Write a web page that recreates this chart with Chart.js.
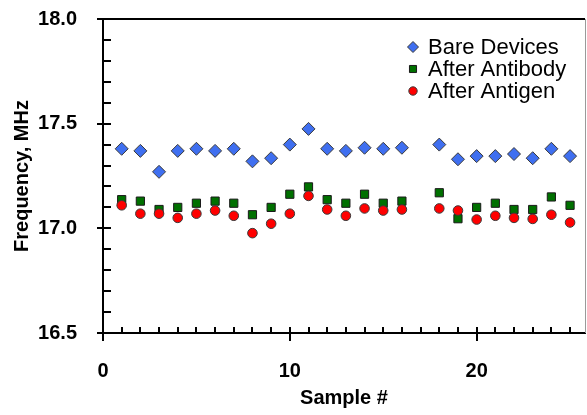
<!DOCTYPE html>
<html>
<head>
<meta charset="utf-8">
<script src="https://cdn.jsdelivr.net/npm/chart.js@4"></script>
<style>
  html, body { margin: 0; padding: 0; background: #fff; }
  #wrap { width: 587px; height: 415px; position: relative; }
</style>
</head>
<body>
<div id="wrap"><canvas id="freqChart"></canvas></div>
<script>
// Sample numbers (17 is missing in the original)
const samples = [1, 2, 3, 4, 5, 6, 7, 8, 9, 10, 11, 12, 13, 14, 15, 16, 18, 19, 20, 21, 22, 23, 24, 25];

// Frequency, MHz
const bareDevices = [17.38, 17.37, 17.27, 17.37, 17.38, 17.37, 17.38, 17.32, 17.335, 17.40, 17.475, 17.38,
                     17.37, 17.385, 17.38, 17.385, 17.40, 17.33, 17.345, 17.345, 17.355, 17.335, 17.38, 17.345];
const afterAntibody = [17.137, 17.13, 17.09, 17.10, 17.12, 17.13, 17.12, 17.065, 17.10, 17.163, 17.198, 17.137,
                       17.12, 17.163, 17.12, 17.13, 17.17, 17.046, 17.10, 17.12, 17.09, 17.09, 17.15, 17.11];
const afterAntigen = [17.11, 17.07, 17.07, 17.05, 17.07, 17.085, 17.06, 16.977, 17.022, 17.07, 17.155, 17.09,
                      17.06, 17.095, 17.085, 17.09, 17.095, 17.085, 17.042, 17.06, 17.05, 17.045, 17.065, 17.028];

const xTicks = [0, 10, 20];
const yTicks = [16.5, 17.0, 17.5, 18.0];

const toPoints = vals => vals.map((v, i) => ({ x: samples[i], y: v }));

const FONT = 'Liberation Sans, Arial, sans-serif';

// Minor / major tick marks and the plot frame (top black, right grey)
const axisMarks = {
    id: 'axisMarks',
    afterDraw(chart) {
        const { ctx, chartArea: a, scales: { x, y } } = chart;
        ctx.save();
        ctx.strokeStyle = '#000';
        ctx.lineWidth = 2;
        ctx.beginPath();
        for (let v = 0; v <= 25; v++) {
            const px = Math.round(x.getPixelForValue(v));
            const major = xTicks.includes(v);
            ctx.moveTo(px, a.bottom + (major ? 8 : 0));
            ctx.lineTo(px, a.bottom - 6);
        }
        for (let i = 0; i <= 15; i++) {
            const v = 16.5 + i * 0.1;
            const py = Math.round(y.getPixelForValue(v));
            const major = i % 5 === 0;
            ctx.moveTo(a.left - (major ? 6 : 0), py);
            ctx.lineTo(a.left + 8, py);
        }
        ctx.stroke();

        ctx.beginPath();
        ctx.moveTo(a.left, a.top);
        ctx.lineTo(a.right, a.top);
        ctx.stroke();

        ctx.strokeStyle = '#9a9a9a';
        ctx.lineWidth = 1;
        ctx.beginPath();
        ctx.moveTo(a.right + 0.5, a.top);
        ctx.lineTo(a.right + 0.5, a.bottom);
        ctx.stroke();
        ctx.restore();
    }
};

// Legend drawn inside the plot area, top right
const insideLegend = {
    id: 'insideLegend',
    afterDraw(chart) {
        const { ctx } = chart;
        const left = 413, top = 47, step = 22;
        ctx.save();
        ctx.font = '22px ' + FONT;
        ctx.textBaseline = 'middle';
        chart.data.datasets.forEach((ds, i) => {
            const cy = top + i * step;
            ctx.fillStyle = ds.backgroundColor;
            ctx.strokeStyle = ds.borderColor;
            ctx.lineWidth = 1;
            Chart.helpers.drawPoint(ctx, {
                pointStyle: ds.pointStyle,
                radius: ds.legendRadius,
                rotation: 0,
                borderWidth: 1
            }, left, cy);
            ctx.fillStyle = '#000';
            ctx.fillText(ds.label, left + 15, cy + 1);
        });
        ctx.restore();
    }
};

const ctx = document.getElementById('freqChart');
new Chart(ctx, {
    type: 'scatter',
    data: {
        datasets: [
            {
                label: 'Bare Devices',
                data: toPoints(bareDevices),
                pointStyle: 'rectRot',
                pointRadius: 6.5,
                legendRadius: 5.5,
                backgroundColor: '#3f6ff0',
                borderColor: '#3a3a3a',
                borderWidth: 1,
                order: 2
            },
            {
                label: 'After Antibody',
                data: toPoints(afterAntibody),
                pointStyle: 'rect',
                pointRadius: 5.8,
                legendRadius: 5,
                backgroundColor: '#007000',
                borderColor: '#1a1a1a',
                borderWidth: 1,
                order: 1
            },
            {
                label: 'After Antigen',
                data: toPoints(afterAntigen),
                pointStyle: 'circle',
                pointRadius: 4.8,
                legendRadius: 4.2,
                backgroundColor: '#ff0000',
                borderColor: '#3a3a3a',
                borderWidth: 1,
                order: 0
            }
        ]
    },
    options: {
        responsive: true,
        maintainAspectRatio: false,
        animation: false,
        layout: { autoPadding: false, padding: { top: 19, right: 2, left: 0, bottom: 0 } },
        plugins: {
            legend: { display: false },
            tooltip: { enabled: false }
        },
        scales: {
            x: {
                type: 'linear',
                min: 0,
                max: 25.8,
                afterFit: s => {
                    s.height = 82;
                    s.paddingLeft = 0;
                    s.paddingRight = 0;
                },
                afterBuildTicks: s => { s.ticks = xTicks.map(v => ({ value: v })); },
                grid: { display: false },
                border: { display: true, color: '#000', width: 2 },
                ticks: {
                    color: '#000',
                    padding: 18,
                    maxRotation: 0,
                    font: { family: FONT, size: 20, weight: 'bold' }
                },
                title: {
                    display: true,
                    text: 'Sample #',
                    color: '#000',
                    padding: { top: 0, bottom: 5 },
                    font: { family: FONT, size: 20, weight: 'bold', lineHeight: 1.2 }
                }
            },
            y: {
                min: 16.5,
                max: 18.0,
                afterFit: s => {
                    s.width = 103;
                    s.paddingTop = 0;
                    s.paddingBottom = 0;
                },
                afterBuildTicks: s => { s.ticks = yTicks.map(v => ({ value: v })); },
                grid: { display: false },
                border: { display: true, color: '#000', width: 2 },
                ticks: {
                    color: '#000',
                    padding: 18,
                    callback: v => v.toFixed(1),
                    font: { family: FONT, size: 20, weight: 'bold' }
                },
                title: {
                    display: true,
                    text: 'Frequency, MHz',
                    color: '#000',
                    padding: { top: 10, bottom: 0 },
                    font: { family: FONT, size: 20, weight: 'bold', lineHeight: 1.2 }
                }
            }
        }
    },
    plugins: [axisMarks, insideLegend]
});
</script>
</body>
</html>
